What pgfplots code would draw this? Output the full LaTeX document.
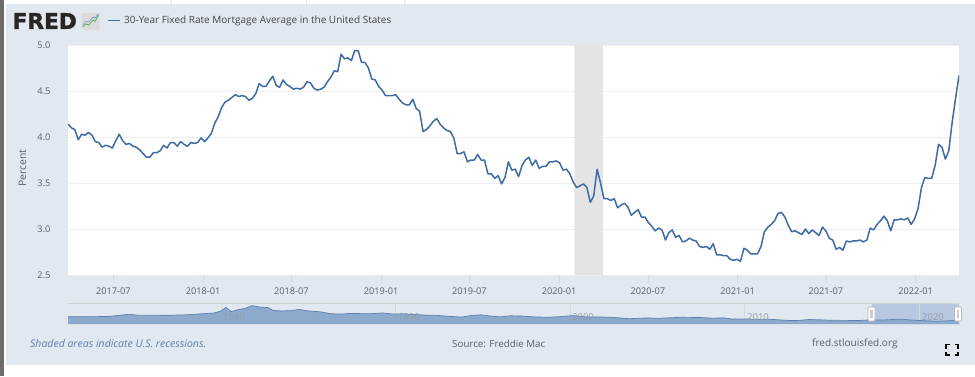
\documentclass[border=0pt]{standalone}
\usepackage{pgfplots}
\usepackage{pgfplotstable}
\usepackage{fontspec}
\setmainfont{Open Sans}
\newfontfamily\logofont[BoldFeatures={FakeBold=1.6}]{DejaVu Sans}
\pgfplotsset{compat=1.18}
\definecolor{panel}{HTML}{E1E8EF}
\definecolor{lineblue}{HTML}{3D6BA5}
\definecolor{txt}{HTML}{5A5F66}
\definecolor{gridc}{HTML}{EDEFF2}
\definecolor{tickc}{HTML}{CEDAEC}
\definecolor{rec}{HTML}{E4E4E4}
\definecolor{areaf}{HTML}{8DA9CB}
\definecolor{bandf}{HTML}{B9C8E1}
\definecolor{yearc}{HTML}{939BA6}
\pgfplotstableread{
y
4.14
4.10
4.08
3.97
4.03
4.02
4.05
4.02
3.95
3.94
3.89
3.91
3.90
3.88
3.96
4.03
3.96
3.92
3.93
3.90
3.89
3.86
3.82
3.78
3.78
3.83
3.83
3.85
3.91
3.88
3.94
3.94
3.90
3.95
3.92
3.90
3.94
3.93
3.94
3.99
3.95
3.99
4.04
4.15
4.22
4.32
4.38
4.40
4.43
4.46
4.44
4.45
4.44
4.40
4.42
4.47
4.58
4.55
4.55
4.61
4.66
4.56
4.54
4.62
4.57
4.55
4.52
4.53
4.52
4.54
4.60
4.59
4.53
4.51
4.52
4.54
4.60
4.65
4.72
4.71
4.90
4.85
4.86
4.83
4.94
4.94
4.81
4.81
4.75
4.63
4.62
4.55
4.51
4.45
4.45
4.45
4.46
4.41
4.37
4.35
4.35
4.41
4.31
4.28
4.06
4.08
4.12
4.17
4.20
4.14
4.10
4.07
4.06
3.99
3.82
3.82
3.84
3.73
3.75
3.75
3.81
3.75
3.75
3.60
3.60
3.55
3.58
3.49
3.56
3.73
3.64
3.65
3.57
3.69
3.75
3.78
3.69
3.75
3.66
3.68
3.68
3.73
3.73
3.74
3.72
3.64
3.65
3.60
3.51
3.45
3.47
3.49
3.45
3.29
3.36
3.65
3.50
3.33
3.33
3.31
3.33
3.23
3.26
3.28
3.24
3.15
3.18
3.21
3.13
3.13
3.07
3.03
2.98
3.01
2.99
2.88
2.96
2.99
2.91
2.93
2.86
2.87
2.90
2.88
2.87
2.81
2.80
2.81
2.78
2.84
2.72
2.72
2.71
2.71
2.67
2.66
2.67
2.65
2.79
2.77
2.73
2.73
2.73
2.81
2.97
3.02
3.05
3.09
3.17
3.18
3.13
3.04
2.97
2.98
2.96
2.94
3.00
2.95
2.99
2.96
2.93
3.02
2.98
2.90
2.88
2.78
2.80
2.77
2.87
2.86
2.87
2.87
2.88
2.86
2.88
3.01
2.99
3.05
3.09
3.14
3.09
2.98
3.10
3.10
3.11
3.10
3.12
3.05
3.11
3.22
3.45
3.56
3.55
3.55
3.69
3.92
3.89
3.76
3.85
4.16
4.42
4.67
}\mortgage
\pgfplotstableread{
yr val
1971.25 7.3
1972 7.3
1973 7.4
1973.6 7.6
1974 8.3
1974.7 9.7
1975.2 8.9
1976 8.9
1977 8.8
1977.8 9
1978.5 9.7
1979 10.3
1979.6 11
1980 12.8
1980.3 16.6
1980.6 12.4
1981 14.4
1981.4 15.6
1981.8 18.4
1982.2 17
1982.7 16.5
1983 13.6
1983.5 13
1984 13.4
1984.5 14.5
1985 13.1
1985.7 12.2
1986.3 10.3
1986.9 9.9
1987.4 10.6
1988 10.4
1988.7 10.4
1989.3 11
1989.9 9.9
1990.4 10.2
1991 9.6
1991.8 8.8
1992.4 8.6
1993 7.8
1993.8 6.9
1994.3 8.4
1994.9 9.2
1995.5 7.9
1996 7.1
1996.6 8.2
1997.2 8
1998 7
1998.8 6.8
1999.4 7.3
2000.2 8.4
2001 7
2001.6 7.1
2002.4 6.7
2003.4 5.3
2004.4 6.1
2005 5.7
2006.4 6.7
2007.5 6.5
2008.2 5.7
2008.8 6.2
2009.3 4.9
2010.2 5
2011 4.6
2011.3 4.9
2012.5 3.6
2013 3.4
2013.7 4.5
2014.5 4.1
2015 3.7
2016 3.6
2016.6 3.5
2017.2 4.2
2018 4
2018.9 4.9
2019.8 3.7
2020.3 3.3
2021 2.7
2021.5 3
2022.1 3.7
2022.3 4.6
}\history
\begin{document}
\begin{tikzpicture}[x=1pt,y=1pt]
\useasboundingbox (0,0) rectangle (975,376);
\fill[white] (0,0) rectangle (975,376);
\fill[gray!85!black] (0,0) rectangle (3.5,376);
\fill[panel] (5.5,11) rectangle (975,372);
\foreach \xx in {171,306,404}{\draw[gray!20,line width=0.6pt] (\xx,372) -- (\xx,376);}
% logo
\node[anchor=west,inner sep=0pt,text=black!85] at (12.5,355) {\logofont\fontsize{21.6}{24}\selectfont\bfseries FRED};
\fill[black!14,rounded corners=1pt] (81.5,346.5) rectangle (99.5,363);
\draw[green!35!gray,line width=0.7pt] (82.5,349) -- (86,352) -- (89,351) -- (93,356) -- (95,354.5) -- (98.5,361);
\draw[lineblue!70,line width=0.7pt] (82.5,351) -- (86,354.5) -- (89,354) -- (93,359) -- (95,358) -- (98.5,362.5);
% legend
\draw[lineblue,line width=1.4pt] (107.5,355.5) -- (120,355.5);
\node[anchor=west,inner sep=0pt,text=txt!75!black] at (124,355.5) {\fontsize{10}{11}\selectfont 30-Year Fixed Rate Mortgage Average in the United States};
% main chart
\begin{axis}[
  at={(68pt,101pt)},anchor=south west,
  scale only axis,width=891pt,height=230pt,
  xmin=0,xmax=261,ymin=2.5,ymax=5,
  axis background/.style={fill=white},
  axis line style={draw=none},
  x axis line style={draw=tickc,line width=0.8pt},
  tickpos=left,
  xtick={13.29,39.57,65.43,91.71,117.57,143.86,169.86,196.14,222,248.29},
  xticklabels={2017-07,2018-01,2018-07,2019-01,2019-07,2020-01,2020-07,2021-01,2021-07,2022-01},
  ytick={2.5,3,3.5,4,4.5,5},
  yticklabel style={/pgf/number format/fixed,/pgf/number format/fixed zerofill,/pgf/number format/precision=1,/pgf/number format/assume math mode=true,font=\fontsize{9.2}{10}\selectfont,text=txt,xshift=-6pt},
  xticklabel style={font=\fontsize{9.2}{10}\selectfont,text=txt,yshift=-1pt},
  tick align=outside,
  major tick length=8pt,
  x tick style={draw=tickc,line width=0.7pt},
  y tick style={draw=none},
  ymajorgrids,
  grid style={draw=gridc,line width=1pt},
  ylabel={Percent},
  every axis y label/.style={at={(axis description cs:-0.051,0.465)},anchor=center,rotate=90,font=\fontsize{10.3}{11}\selectfont,text=txt},
  clip=true,
  axis on top=false,
]
\addplot[fill=rec,draw=none,forget plot] coordinates {(148.3,2.5)(148.3,5)(156.7,5)(156.7,2.5)} \closedcycle;
\addplot[lineblue,line width=1.5pt,line join=round] table[x expr=\coordindex,y=y] {\mortgage};
\end{axis}
% overview
\begin{axis}[
  at={(68pt,52pt)},anchor=south west,
  scale only axis,width=891pt,height=21pt,
  xmin=1971.25,xmax=2022.3,ymin=0,ymax=21,
  hide axis,clip=false,
]
\addplot[fill=bandf,draw=none] coordinates {(2017.3,0)(2017.3,21)(2022.3,21)(2022.3,0)} \closedcycle;
\addplot[draw=gridc!80!gray,line width=0.4pt] coordinates {(1980,0)(1980,21)};
\addplot[draw=gridc!80!gray,line width=0.4pt] coordinates {(1990,0)(1990,21)};
\addplot[draw=gridc!80!gray,line width=0.4pt] coordinates {(2000,0)(2000,21)};
\addplot[draw=gridc!80!gray,line width=0.4pt] coordinates {(2010,0)(2010,21)};
\addplot[draw=gridc!80!gray,line width=0.4pt] coordinates {(2020,0)(2020,21)};
\addplot[draw=gray!35,line width=0.9pt] coordinates {(1971.25,21)(2022.3,21)};
\addplot[fill=areaf,draw=none] table[x=yr,y=val] {\history} \closedcycle;
\addplot[draw=lineblue!85,line width=0.7pt] table[x=yr,y=val] {\history};
\end{axis}
% overview year labels and handles
\foreach \xx/\yy in {234/1980,409/1990,583/2000,758/2010,933/2020}{
  \node[text=yearc,inner sep=0pt] at (\xx,58.5) {\fontsize{9.5}{10}\selectfont \yy};}
\foreach \xx in {871.5,958}{
  \fill[white,draw=gray!55,line width=0.7pt,rounded corners=0.8pt] (\xx-3.5,55) rectangle (\xx+3.5,69);
  \fill[gray!40] (\xx-1.3,58) rectangle (\xx+1.3,66);}
% footer
\node[anchor=west,inner sep=0pt,text=lineblue!85] at (30,32) {\fontsize{10.5}{11}\selectfont\itshape Shaded areas indicate U.S. recessions.};
\node[anchor=west,inner sep=0pt,text=txt] at (452,32) {\fontsize{9.8}{11}\selectfont Source: Freddie Mac};
\node[anchor=west,inner sep=0pt,text=txt] at (812,32) {\fontsize{10}{11}\selectfont fred.stlouisfed.org};
\draw[black,line width=1.1pt] (946,24.5) -- (946,21) -- (949.5,21);
\draw[black,line width=1.1pt] (954.5,21) -- (958,21) -- (958,24.5);
\draw[black,line width=1.1pt] (946,27.5) -- (946,31.5) -- (949.5,31.5);
\draw[black,line width=1.1pt] (954.5,31.5) -- (958,31.5) -- (958,27.5);
\end{tikzpicture}
\end{document}
